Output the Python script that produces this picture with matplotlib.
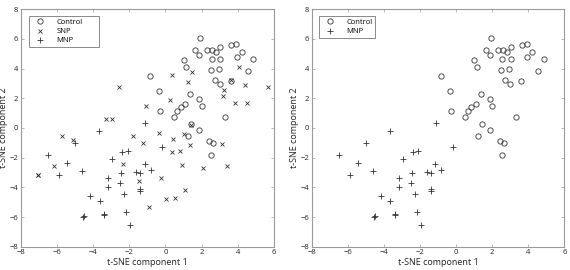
import numpy as np
import matplotlib
matplotlib.use("Agg")
import matplotlib.pyplot as plt

plt.rcParams['font.family'] = ['Open Sans', 'DejaVu Sans']

# t-SNE embedding
control_x = [1.92, 1.64, 2.31, 2.58, 2.81, 3.03, 3.65, 3.92, 4.23, 4.85, 3.96, 4.56, 1.86,
             2.55, 3.04, 1.00, 1.16, 2.51, 2.95, 2.73, 2.99, 3.60, -0.85, -0.34, 1.37, 1.86,
             -0.30, 2.01, 3.31, 0.48, 0.66, 0.84, 1.09, 1.42, 1.88, 1.23, 2.43, 2.65, 2.53]
control_y = [6.08, 5.25, 5.25, 5.25, 5.15, 5.49, 5.58, 5.69, 5.13, 4.62, 4.76, 3.83, 4.89,
             4.65, 4.67, 4.56, 4.10, 3.90, 3.97, 3.21, 2.96, 3.20, 3.48, 2.49, 2.27, 1.98,
             1.13, 1.45, 0.72, 0.74, 1.13, 1.42, 1.60, 0.25, -0.11, -0.56, -0.90, -1.01, -1.84]

snp_x = [-2.55, -3.29, -2.98, -1.09, 0.34, 0.25, 1.46, 1.23, 4.04, 3.23, 3.17, 3.62, 4.38,
         3.85, 4.49, 5.65, -0.37, 1.04, 1.40, -5.70, -1.80, -5.13, -1.23, 0.44, 1.38, 0.36,
         0.78, 3.14, -6.18, -2.32, 0.92, 2.05, 3.40, -7.05, -7.02, -1.46, -0.25, -0.91, 0.03,
         0.52, 1.08]
snp_y = [2.76, 0.63, 0.63, 1.48, 3.58, 1.88, 3.76, 3.07, 4.11, 2.55, 2.14, 3.22, 2.89,
         1.68, 1.68, 2.74, -0.32, -0.40, 0.22, -0.51, -0.57, -0.83, -0.98, -0.76, -1.16, -1.64,
         -1.54, -1.07, -2.53, -2.42, -2.51, -2.72, -2.54, -3.19, -3.16, -3.57, -3.35, -5.33, -4.81,
         -4.69, -4.18]

mnp_x = [-3.66, -1.13, -4.99, -6.50, -5.42, -5.86, -4.62, -2.96, -2.40, -2.09, -0.17, -1.15,
         -0.82, -2.43, -1.63, -1.41, -3.15, -2.52, -3.18, -1.41, -1.41, -2.28, -4.16, -3.64,
         -4.53, -4.50, -3.37, -3.40, -2.18, -1.96]
mnp_y = [-0.18, 0.36, -1.03, -1.80, -2.34, -3.17, -2.90, -2.07, -1.64, -1.57, -1.28, -2.45,
         -2.81, -3.06, -2.99, -3.06, -3.35, -3.71, -4.01, -4.10, -4.25, -4.43, -4.55, -4.91,
         -5.97, -5.93, -5.83, -5.80, -5.65, -6.55]

ticks_x = np.arange(-8, 7, 2)
ticks_y = np.arange(-8, 9, 2)

ink = '#333333'
spine = '#9a9a9a'

fig = plt.figure(figsize=(5.7, 2.7), dpi=100)
ax1 = fig.add_axes([0.0363, 0.0863, 0.4444, 0.8793])
ax2 = fig.add_axes([0.5468, 0.0863, 0.4432, 0.8793])


def style(ax):
    ax.set_xlim(-8, 6)
    ax.set_ylim(-8, 8)
    ax.set_xticks(ticks_x)
    ax.set_yticks(ticks_y)
    ax.tick_params(direction='in', length=2, width=0.5, color=spine, labelsize=5.5,
                   labelcolor='#222222', top=True, right=True, pad=2)
    for s in ax.spines.values():
        s.set_color(spine)
        s.set_linewidth(0.8)
    ax.set_xlabel('t-SNE component 1', fontsize=6.5, color='#222222', labelpad=1)
    ax.set_ylabel('t-SNE component 2', fontsize=6.5, color='#222222', labelpad=1)


def add_legend(ax, box):
    leg = ax.legend(loc='upper left', mode='expand', fontsize=5.5, frameon=True,
                    fancybox=False, borderpad=0.35, handlelength=2.2, handletextpad=1.0,
                    labelspacing=0.25, bbox_to_anchor=box, borderaxespad=0)
    leg.get_frame().set_edgecolor('#555555')
    leg.get_frame().set_linewidth(0.6)


ax1.plot(control_x, control_y, 'o', ms=3.8, mfc='none', mec=ink, mew=0.6, label='Control')
ax1.plot(snp_x, snp_y, 'x', ms=2.8, mec=ink, mew=0.6, label='SNP')
ax1.plot(mnp_x, mnp_y, '+', ms=4.0, mec=ink, mew=0.6, label='MNP')
style(ax1)
add_legend(ax1, (0.034, 0.972, 0.274, 0.0))

ax2.plot(control_x, control_y, 'o', ms=3.8, mfc='none', mec=ink, mew=0.6, label='Control')
ax2.plot(mnp_x, mnp_y, '+', ms=4.0, mec=ink, mew=0.6, label='MNP')
style(ax2)
add_legend(ax2, (0.030, 0.972, 0.221, 0.0))

fig.savefig('out.png', dpi=100)
